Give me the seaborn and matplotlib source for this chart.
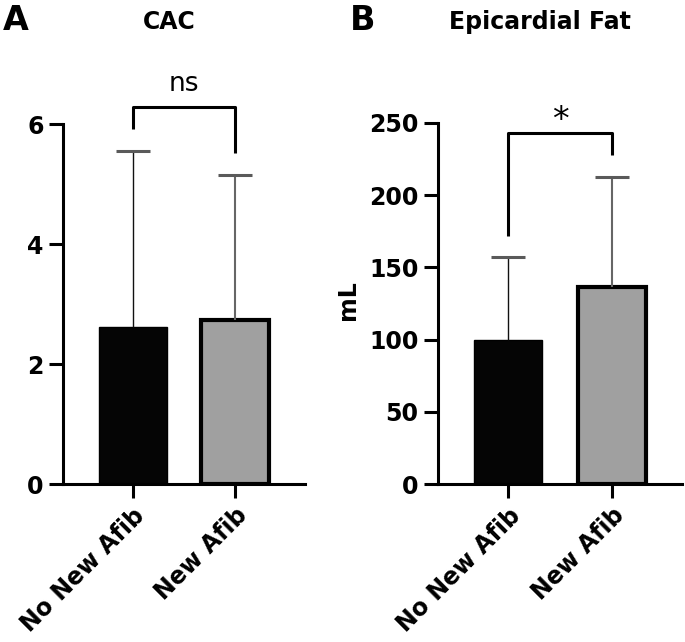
import matplotlib
matplotlib.use('Agg')
import matplotlib.pyplot as plt
import pandas as pd
import seaborn as sns

# data (mean and upward SD)
groups = ['No New Afib', 'New Afib']
cac_mean = [2.62, 2.73]
cac_sd = [2.93, 2.42]
fat_mean = [100, 136.5]
fat_sd = [57, 76]
bar_colors = ['#050505', '#a0a0a0']

sns.set_style('ticks')
plt.rcParams['font.family'] = ['DejaVu Sans']
plt.rcParams['font.weight'] = 'bold'
plt.rcParams['text.color'] = 'black'
plt.rcParams['xtick.color'] = 'black'
plt.rcParams['ytick.color'] = 'black'
plt.rcParams['axes.edgecolor'] = 'black'

fig = plt.figure(figsize=(6.85, 6.42), dpi=100)
W, H = 685, 642


def draw_panel(ax, means, sds, ymax, yticks, bracket, mark, mark_y, mark_size):
    df = pd.DataFrame({'group': groups, 'value': means})
    sns.barplot(data=df, x='group', y='value', hue='group', palette=bar_colors,
                width=0.66, edgecolor='black', ax=ax, legend=False)
    for i, p in enumerate(ax.patches):
        p.set_linewidth(1.0 if i == 0 else 3.0)
        p.set_edgecolor('black')
    err_colors = ['#111111', '#666666']
    for i, (m, s) in enumerate(zip(means, sds)):
        _, caps, _ = ax.errorbar(i, m, yerr=[[0], [s]], fmt='none', ecolor=err_colors[i],
                                 elinewidth=1.0 if i == 0 else 1.5, capsize=12,
                                 capthick=2.2, zorder=1)
        caps[0].set_visible(False)
        caps[1].set_markeredgecolor('#5a5a5a')
    # significance bracket
    left, top, right = bracket
    ax.plot([0, 0, 1, 1], [left, top, top, right], color='black', lw=2.2,
            clip_on=False, solid_capstyle='butt')
    ax.text(0.5, mark_y, mark, ha='center', va='center', fontsize=mark_size,
            fontweight='normal', clip_on=False)

    ax.set_xlim(-0.68, 1.68)
    ax.set_ylim(0, ymax)
    ax.set_yticks(yticks)
    ax.set_xlabel('')
    ax.set_ylabel('')
    sns.despine(ax=ax)
    for sp in ['left', 'bottom']:
        ax.spines[sp].set_linewidth(2.2)
        ax.spines[sp].set_color('black')
    ax.tick_params(width=2.2, length=10, labelsize=17, pad=4, colors='black')
    for lab in ax.get_xticklabels():
        lab.set_rotation(45)
        lab.set_ha('right')
        lab.set_va('top')
        lab.set_rotation_mode('anchor')
        lab.set_fontweight('bold')
    for lab in ax.get_yticklabels():
        lab.set_fontweight('bold')


ax_a = fig.add_axes([63 / W, (H - 484) / H, 242 / W, 360 / H])
draw_panel(ax_a, cac_mean, cac_sd, 6, [0, 2, 4, 6],
           (5.92, 6.28, 5.52), 'ns', 6.66, 19)

ax_b = fig.add_axes([438 / W, (H - 484) / H, 244 / W, 361 / H])
draw_panel(ax_b, fat_mean, fat_sd, 250, [0, 50, 100, 150, 200, 250],
           (172, 243, 228), '*', 252, 24)

# titles, panel letters and y label
fig.text(169 / W, 1 - 22 / H, 'CAC', ha='center', va='center', fontsize=17, fontweight='bold')
fig.text(540 / W, 1 - 22 / H, 'Epicardial Fat', ha='center', va='center', fontsize=17, fontweight='bold')
fig.text(3 / W, 1 - 20 / H, 'A', ha='left', va='center', fontsize=24, fontweight='bold')
fig.text(350 / W, 1 - 20 / H, 'B', ha='left', va='center', fontsize=24, fontweight='bold')
fig.text(348 / W, 1 - 300 / H, 'mL', ha='center', va='center', rotation=90, fontsize=17, fontweight='bold')

fig.savefig('out.png', dpi=100)
